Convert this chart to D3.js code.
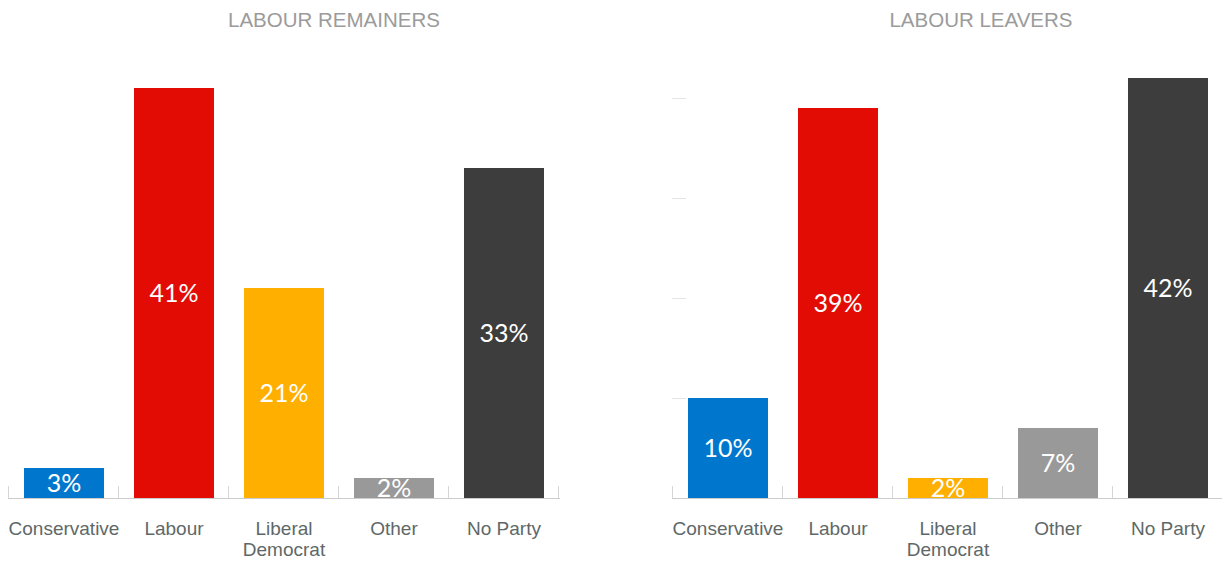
<!DOCTYPE html>
<html>
<head>
<meta charset="utf-8">
<script src="https://cdn.jsdelivr.net/npm/d3@7"></script>
<style>
  body { margin: 0; background: #fff; }
  svg { display: block; }
</style>
</head>
<body>
<svg id="chart" width="1222" height="561"></svg>
<script>
// chart data
var categories = ['Conservative', 'Labour', 'Liberal Democrat', 'Other', 'No Party'];
var remainers = [3, 41, 21, 2, 33];
var leavers = [10, 39, 2, 7, 42];
var panel_titles = ['LABOUR REMAINERS', 'LABOUR LEAVERS'];
var party_colors = ['#0077cc', '#e30c04', '#ffaf00', '#999999', '#3d3d3d'];

var svg = d3.select('#chart');
var baseline = 498;

// shared value scale, both panels use the same height per percent
var y_scale = d3.scaleLinear()
  .domain([0, 42])
  .range([baseline, 78]);

var color = d3.scaleOrdinal()
  .domain(categories)
  .range(party_colors);

function draw_panel(values, title, left, right, title_x, show_y_ticks, idx) {
  var rows = categories.map(function(c, i) { return {name: c, value: values[i]}; });

  // bars sit 1px right of the band centre, edge ticks 1px left
  var x_scale = d3.scaleBand()
    .domain(categories)
    .range([left + 1, right + 1])
    .paddingInner(0.2727)
    .paddingOuter(0.13636);

  var step = x_scale.step();
  var half_gap = (step - x_scale.bandwidth()) / 2;

  var panel = svg.append('g').attr('class', 'panel_' + idx);

  // title
  panel.append('text')
    .attr('x', title_x)
    .attr('y', 27)
    .attr('text-anchor', 'middle')
    .style('font-family', '"Liberation Sans", Arial, sans-serif')
    .style('font-size', '20.5px')
    .style('fill', '#9b9b9b')
    .text(title);

  // short gridline ticks on the value axis (only shown on the right panel)
  if (show_y_ticks) {
    var y_axis = panel.append('g')
      .attr('transform', 'translate(' + left + ',0)')
      .call(d3.axisLeft(y_scale).tickValues([10, 20, 30, 40]).tickSize(-14).tickFormat(''));
    y_axis.select('.domain').remove();
    y_axis.selectAll('.tick line').attr('stroke', '#e4e4e4');
  }

  // bars
  panel.selectAll('.bar')
    .data(rows)
    .enter()
    .append('rect')
    .attr('class', 'bar')
    .attr('x', function(d) { return x_scale(d.name); })
    .attr('y', function(d) { return y_scale(d.value); })
    .attr('width', x_scale.bandwidth())
    .attr('height', function(d) { return baseline - y_scale(d.value); })
    .attr('fill', function(d) { return color(d.name); });

  // value labels, cut off at the baseline
  var clip_id = 'clip_' + idx;
  panel.append('clipPath')
    .attr('id', clip_id)
    .append('rect')
    .attr('x', left)
    .attr('y', 0)
    .attr('width', right - left + 2)
    .attr('height', baseline);

  panel.append('g')
    .attr('clip-path', 'url(#' + clip_id + ')')
    .selectAll('.value_label')
    .data(rows)
    .enter()
    .append('text')
    .attr('class', 'value_label')
    .attr('x', function(d) { return x_scale(d.name) + x_scale.bandwidth() / 2; })
    .attr('y', function(d) { return (y_scale(d.value) + baseline) / 2; })
    .attr('dy', '0.36em')
    .attr('text-anchor', 'middle')
    .style('font-family', 'Lato, "Open Sans", sans-serif')
    .style('font-size', '25px')
    .style('fill', '#fff')
    .text(function(d) { return d.value + '%'; });

  // baseline and band edge ticks
  panel.append('line')
    .attr('x1', left)
    .attr('x2', right + 2)
    .attr('y1', baseline + 0.5)
    .attr('y2', baseline + 0.5)
    .attr('stroke', '#cccccc');

  var edges = categories.map(function(c) { return x_scale(c) - half_gap - 1; });
  edges.push(right);

  panel.selectAll('.edge_tick')
    .data(edges)
    .enter()
    .append('line')
    .attr('class', 'edge_tick')
    .attr('x1', function(d) { return Math.round(d) + 0.5; })
    .attr('x2', function(d) { return Math.round(d) + 0.5; })
    .attr('y1', baseline - 12)
    .attr('y2', baseline)
    .attr('stroke', '#d6d6d6');

  // category labels, wrapped when too wide for the band
  var labels = panel.selectAll('.cat_label')
    .data(rows)
    .enter()
    .append('text')
    .attr('class', 'cat_label')
    .attr('x', function(d) { return x_scale(d.name) + x_scale.bandwidth() / 2; })
    .attr('y', 535)
    .attr('text-anchor', 'middle')
    .style('font-family', '"Liberation Sans", Arial, sans-serif')
    .style('font-size', '19px')
    .style('fill', '#5e6868');

  labels.each(function(d) {
    var text = d3.select(this);
    text.text(d.name);
    if (this.getComputedTextLength() > 125) {
      var words = d.name.split(' ');
      text.text(null);
      words.forEach(function(w, i) {
        text.append('tspan')
          .attr('x', text.attr('x'))
          .attr('dy', i === 0 ? 0 : 21)
          .text(w);
      });
    }
  });
}

draw_panel(remainers, panel_titles[0], 8, 558, 334, false, 0);
draw_panel(leavers, panel_titles[1], 672, 1222, 981, true, 1);
</script>
</body>
</html>
